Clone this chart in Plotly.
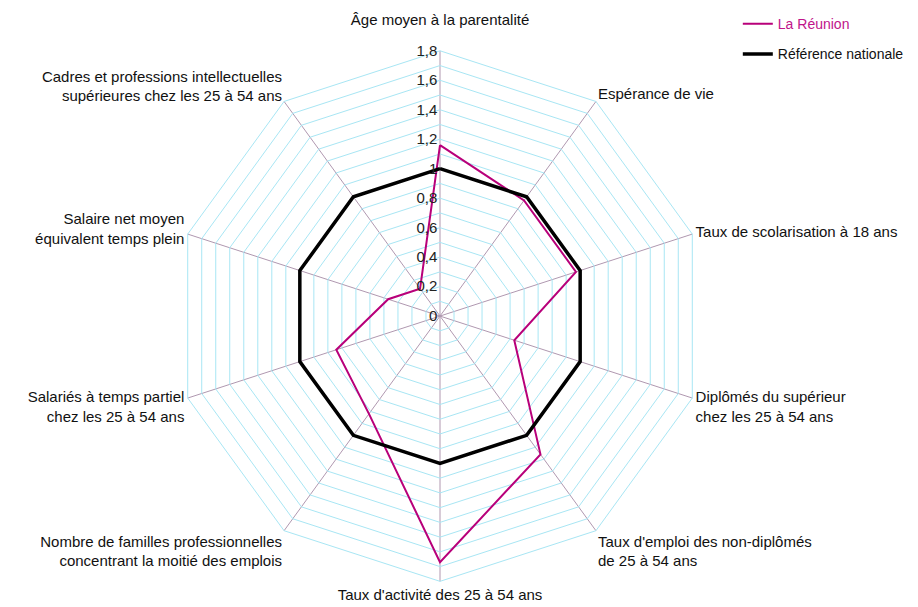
import plotly.graph_objects as go

categories = [
    "Âge moyen à la parentalité<br> ",
    "Espérance de vie",
    "Taux de scolarisation à 18 ans",
    "Diplômés du supérieur<br>chez les 25 à 54 ans",
    "Taux d'emploi des non-diplômés<br>de 25 à 54 ans",
    "Taux d'activité des 25 à 54 ans",
    "Nombre de familles professionnelles<br>concentrant la moitié des emplois",
    "Salariés à temps partiel<br>chez les 25 à 54 ans",
    "Salaire net moyen<br>équivalent temps plein",
    "Cadres et professions intellectuelles<br>supérieures chez les 25 à 54 ans",
]
reunion = [1.16, 0.97, 0.97, 0.53, 1.16, 1.67, 0.82, 0.74, 0.37, 0.23]
reference = [1.0] * 10
tick_vals = [round(i * 0.1, 1) for i in range(19)]
tick_text = [("{:g}".format(v).replace(".", ",") if i % 2 == 0 else "") for i, v in enumerate(tick_vals)]

MAGENTA = "#b8007a"

fig = go.Figure()
fig.add_trace(go.Scatterpolar(
    r=reunion + reunion[:1], theta=categories + categories[:1],
    mode="lines", line=dict(color=MAGENTA, width=2),
    name="<span style='color:#c0158a'>La Réunion</span>", legendgroup="a",
))
fig.add_trace(go.Scatterpolar(
    r=reference + reference[:1], theta=categories + categories[:1],
    mode="lines", line=dict(color="black", width=3.5),
    name="Référence nationale", legendgroup="b",
))

fig.update_layout(
    width=918, height=607,
    margin=dict(l=0, r=0, t=0, b=0),
    paper_bgcolor="white", plot_bgcolor="white",
    font=dict(family="Liberation Sans, Arial, sans-serif", size=15, color="#111"),
    polar=dict(
        domain=dict(x=[160 / 918, 704 / 918], y=[1 - 572.5 / 607, 1 - 28.5 / 607]),
        bgcolor="white",
        gridshape="linear",
        radialaxis=dict(
            range=[0, 1.8], tickvals=tick_vals, ticktext=tick_text,
            angle=90, tickangle=90, side="counterclockwise",
            showline=False, ticks="", gridcolor="#a8e6f4", gridwidth=1,
            tickfont=dict(size=15, color="#222"),
        ),
        angularaxis=dict(
            direction="clockwise", rotation=90,
            showline=True, linecolor="#a8e6f4", linewidth=1,
            gridcolor="#b098b0", gridwidth=1, ticks="",
            tickfont=dict(size=15, color="#111"),
        ),
    ),
    legend=dict(
        x=0.795, y=1.025, xanchor="left", yanchor="top",
        font=dict(size=14, color="#111"), tracegroupgap=9,
        bgcolor="rgba(0,0,0,0)",
    ),
)

fig.write_html("out.html")
